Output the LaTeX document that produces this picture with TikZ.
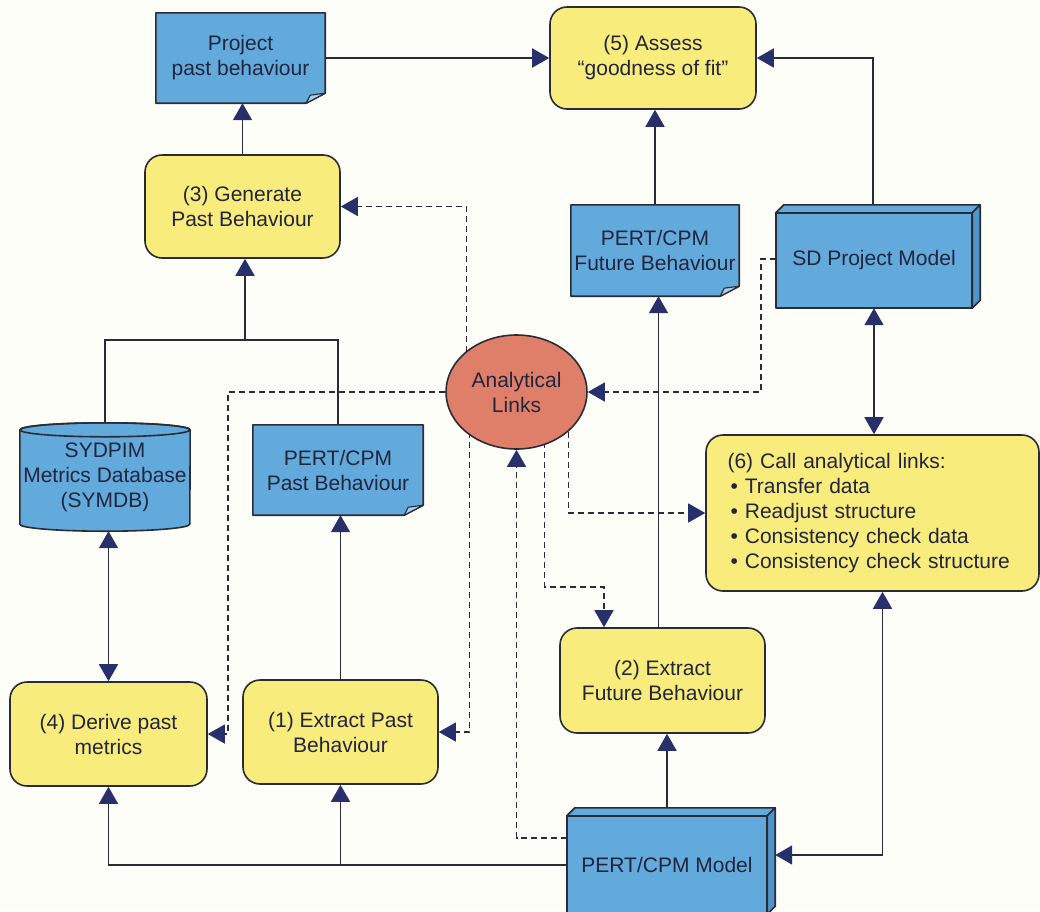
\documentclass[tikz,border=0pt]{standalone}
\usepackage{fontspec}
\setmainfont{Liberation Sans}
\usetikzlibrary{arrows.meta,calc,shapes.geometric}

\definecolor{paper}{HTML}{FEFEF8}
\definecolor{boxblue}{HTML}{62A9DC}
\definecolor{boxblueside}{HTML}{4F95C9}
\definecolor{foldblue}{HTML}{A9D1EF}
\definecolor{stepyellow}{HTML}{F8EC7C}
\definecolor{linkred}{HTML}{DF7F6A}
\definecolor{ink}{HTML}{23253D}
\definecolor{edge}{HTML}{2B2B35}
\definecolor{tipnavy}{HTML}{27306A}

\pgfdeclarelayer{lines}
\pgfdeclarelayer{shapes}
\pgfsetlayers{lines,shapes,main}

\tikzset{
  lbl/.style={font=\fontsize{21}{25}\selectfont, text=ink, align=center, inner sep=0pt},
  stepbox/.style={lbl, draw=edge, line width=1.6pt, fill=stepyellow, rounded corners=17pt},
  linkbox/.style={lbl, ellipse, draw=edge, line width=1.6pt, fill=linkred},
  outline/.style={draw=edge, line width=1.6pt, line join=round},
  flow/.style={draw=edge, line width=1.7pt},
  linkflow/.style={draw=edge, line width=1.4pt, dash pattern=on 6pt off 4pt},
  fwd/.style={-{Triangle[length=17pt,width=19pt,color=tipnavy]}},
  both/.style={{Triangle[length=17pt,width=19pt,color=tipnavy]}-{Triangle[length=17pt,width=19pt,color=tipnavy]}},
}

% document sheet with a folded lower right corner
\newcommand\docframe[1]{%
  \begin{pgfonlayer}{shapes}
    \filldraw[outline, fill=boxblue] (#1.north west) -- (#1.north east)
      -- ([yshift=10pt]#1.south east) -- ([xshift=-19pt]#1.south east)
      -- (#1.south west) -- cycle;
    \filldraw[outline, line width=1.1pt, fill=foldblue] ([yshift=10pt]#1.south east)
      -- ([xshift=-19pt]#1.south east) -- ([xshift=-15pt,yshift=8pt]#1.south east) -- cycle;
  \end{pgfonlayer}}

% box with visible top and right faces
\newcommand\cubeframe[1]{%
  \begin{pgfonlayer}{shapes}
    \filldraw[outline, fill=boxblue] (#1.south west) rectangle (#1.north east);
    \filldraw[outline, fill=boxblue] (#1.north west) -- ++(8pt,8pt)
      -- ([shift={(8pt,8pt)}]#1.north east) -- (#1.north east) -- cycle;
    \filldraw[outline, fill=boxblueside] (#1.north east) -- ++(8pt,8pt)
      -- ([shift={(8pt,8pt)}]#1.south east) -- (#1.south east) -- cycle;
  \end{pgfonlayer}}

% database drum
\newcommand\drumframe[1]{%
  \begin{pgfonlayer}{shapes}
    \filldraw[outline, fill=boxblue] ([yshift=-7pt]#1.north west) -- ([yshift=7pt]#1.south west)
      arc[start angle=180, end angle=360, x radius=85pt, y radius=7pt]
      -- ([yshift=-7pt]#1.north east)
      arc[start angle=0, end angle=180, x radius=85pt, y radius=7pt] -- cycle;
    \draw[outline] ([yshift=-7pt]#1.north) ellipse [x radius=85pt, y radius=7pt];
  \end{pgfonlayer}}

\begin{document}
\begin{tikzpicture}[x=1pt, y=-1pt]

\begin{pgfonlayer}{lines}
  \fill[paper] (0,0) rectangle (1040,911);
\end{pgfonlayer}

% nodes
\node[lbl, minimum width=169pt, minimum height=90pt] (pp) at (240.5,58) {Project\\past behaviour};
\node[stepbox, minimum width=206pt, minimum height=102pt] (assess) at (653,58) {(5) Assess\\“goodness of fit”};
\node[stepbox, minimum width=195pt, minimum height=103pt] (gen) at (242.5,206.5) {(3) Generate\\Past Behaviour};
\node[lbl, minimum width=168pt, minimum height=91pt] (pfb) at (655,250.5) {PERT/CPM\\Future Behaviour};
\node[lbl, minimum width=196pt, minimum height=95pt] (sd) at (874,260.5) {SD Project Model};
\node[linkbox, minimum width=141pt, minimum height=114pt] (ana) at (516.5,392) {Analytical\\Links};
\node[lbl, minimum width=170pt, minimum height=108pt] (db) at (105,477) {SYDPIM\\Metrics Database\\(SYMDB)};
\node[lbl, minimum width=170pt, minimum height=90pt] (ppb) at (338,470) {PERT/CPM\\Past Behaviour};
\node[stepbox, minimum width=333pt, minimum height=156pt, text width=290pt, align=left] (calls) at (872.5,513)
  {(6) Call analytical links:\\
   \hspace{3pt}• Transfer data\\
   \hspace{3pt}• Readjust structure\\
   \hspace{3pt}• Consistency check data\\
   \hspace{3pt}• Consistency check structure};
\node[stepbox, minimum width=205pt, minimum height=105pt] (ext2) at (662.5,680.5) {(2) Extract\\Future Behaviour};
\node[stepbox, minimum width=197pt, minimum height=104pt] (der) at (108.5,734) {(4) Derive past\\metrics};
\node[stepbox, minimum width=195pt, minimum height=104pt] (ext1) at (340.5,732) {(1) Extract Past\\Behaviour};
\node[lbl, minimum width=200pt, minimum height=98pt] (pm) at (667,865) {PERT/CPM Model};

\docframe{pp}
\docframe{pfb}
\docframe{ppb}
\cubeframe{sd}
\cubeframe{pm}
\drumframe{db}

\coordinate (merge) at (245,340);
\coordinate (c2) at (604,587);

\begin{pgfonlayer}{lines}
  % solid flows
  \draw[flow, fwd] (pp.east) -- (assess.west);
  \draw[flow, fwd] (gen.north) -- (gen.north |- pp.south);
  \draw[flow, fwd] (pfb.north) -- (pfb.north |- assess.south);
  \draw[flow, fwd] ([xshift=-1pt]sd.north) |- (assess.east);
  \draw[flow] (db.north) |- (merge);
  \draw[flow] (ppb.north) |- (merge);
  \draw[flow, fwd] (merge) -- (merge |- gen.south);
  \draw[flow, both] (db.south -| der.north) -- (der.north);
  \draw[flow, fwd] (ext1.north) -- (ext1.north |- ppb.south);
  \draw[flow, fwd] (pm.west) -| (der.south);
  \draw[flow, fwd] (ext1.south |- pm.west) -- (ext1.south);
  \draw[flow, fwd] (pm.north) -- (pm.north |- ext2.south);
  \draw[flow, fwd] ([xshift=-4pt]ext2.north) -- ([xshift=-4pt]ext2.north |- pfb.south);
  \draw[flow, both] (sd.south) -- (sd.south |- calls.north);
  \draw[flow, both] ([xshift=8pt,yshift=10pt]pm.east) -| ([xshift=10pt]calls.south);
  % analytical links
  \draw[linkflow, fwd] ([xshift=-50pt]ana.center) |- (gen.east);
  \draw[linkflow, fwd] (ana.west) -| ([xshift=20pt]der.east) -- (der.east);
  \draw[linkflow, fwd] ([xshift=-47pt]ana.center) |- (ext1.east);
  \draw[linkflow, fwd] ([yshift=27pt]pm.west) -| (ana.south);
  \draw[linkflow, fwd] ([xshift=28pt]ana.center) |- (c2) -- (c2 |- ext2.north);
  \draw[linkflow, fwd] ([xshift=52pt]ana.center) |- (calls.west);
  \draw[linkflow, fwd] ([yshift=1.5pt]sd.west) -- ++(-15,0) |- (ana.east);
\end{pgfonlayer}

\pgfresetboundingbox
\useasboundingbox (0,0) rectangle (1040,911);
\end{tikzpicture}
\end{document}
